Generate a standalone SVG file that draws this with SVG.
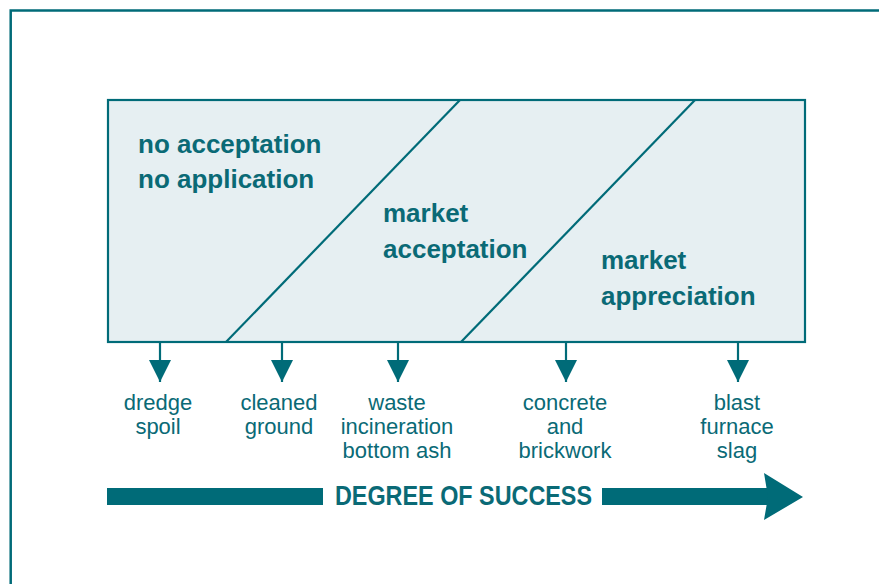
<svg xmlns="http://www.w3.org/2000/svg" width="879" height="584" viewBox="0 0 879 584">
  <style>
    .ln { stroke: #006b78; fill: none; stroke-width: 2.2; }
    .fill { fill: #006b78; }
    .big { font-family: "Liberation Sans", Arial, sans-serif; font-weight: bold; font-size: 26px; fill: #0a6a76; }
    .lbl { font-family: "Liberation Sans", Arial, sans-serif; font-size: 22px; fill: #0a6a76; text-anchor: middle; }
    .title { font-family: "Liberation Sans", Arial, sans-serif; font-weight: bold; font-size: 28px; fill: #0a6a76; }
    .conn { stroke: #006b78; stroke-width: 2.2; fill: none; }
  </style>
  <defs>
    <marker id="ah" viewBox="0 0 22 22" refX="22" refY="11" markerWidth="22" markerHeight="22" markerUnits="userSpaceOnUse" orient="auto">
      <path d="M0,0 L22,11 L0,22 Z" fill="#006b78"/>
    </marker>
  </defs>
  <rect width="879" height="584" fill="#ffffff"/>
  <path d="M10.7,584 V10.5 H879" stroke="#006b78" stroke-width="2.5" fill="none"/>

  <g id="box">
    <rect x="108" y="100" width="697" height="242" style="fill:#e6eff2" class="ln"/>
    <line x1="460" y1="100" x2="226" y2="342" class="ln"/>
    <line x1="695" y1="100" x2="461" y2="342" class="ln"/>
  </g>

  <g id="zone-no-acceptation">
    <text class="big" x="138" y="153">no acceptation</text>
    <text class="big" x="138" y="188">no application</text>
  </g>
  <g id="zone-market-acceptation">
    <text class="big" x="383" y="222">market</text>
    <text class="big" x="383" y="258">acceptation</text>
  </g>
  <g id="zone-market-appreciation">
    <text class="big" x="601" y="269">market</text>
    <text class="big" x="601" y="305">appreciation</text>
  </g>

  <g id="connectors">
    <path d="M160,343 V382" class="conn" marker-end="url(#ah)"/>
    <path d="M282,343 V382" class="conn" marker-end="url(#ah)"/>
    <path d="M398,343 V382" class="conn" marker-end="url(#ah)"/>
    <path d="M566,343 V382" class="conn" marker-end="url(#ah)"/>
    <path d="M738,343 V382" class="conn" marker-end="url(#ah)"/>
  </g>

  <g id="dredge-spoil">
    <text class="lbl" x="158" y="410">dredge</text>
    <text class="lbl" x="158" y="434">spoil</text>
  </g>
  <g id="cleaned-ground">
    <text class="lbl" x="279" y="410">cleaned</text>
    <text class="lbl" x="279" y="434">ground</text>
  </g>
  <g id="waste-incineration">
    <text class="lbl" x="397" y="410">waste</text>
    <text class="lbl" x="397" y="434">incineration</text>
    <text class="lbl" x="397" y="458">bottom ash</text>
  </g>
  <g id="concrete-brickwork">
    <text class="lbl" x="565" y="410">concrete</text>
    <text class="lbl" x="565" y="434">and</text>
    <text class="lbl" x="565" y="458">brickwork</text>
  </g>
  <g id="blast-furnace-slag">
    <text class="lbl" x="737" y="410">blast</text>
    <text class="lbl" x="737" y="434">furnace</text>
    <text class="lbl" x="737" y="458">slag</text>
  </g>

  <g id="degree-of-success">
    <rect x="107" y="488" width="216" height="17" class="fill"/>
    <rect x="602" y="488" width="166" height="17" class="fill"/>
    <polygon points="764,473 803,497 764,520 768,497" class="fill"/>
    <text class="title" x="335" y="505" textLength="257" lengthAdjust="spacingAndGlyphs">DEGREE OF SUCCESS</text>
  </g>
</svg>
